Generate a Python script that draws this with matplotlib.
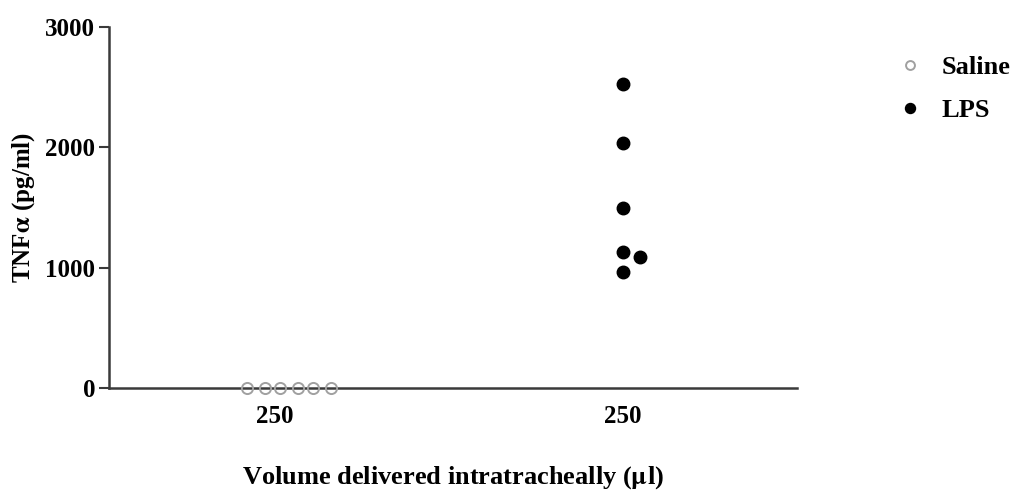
import matplotlib.pyplot as plt
import numpy as np

plt.rcParams.update({
    "font.family": "Liberation Serif",
    "font.weight": "bold",
    "mathtext.fontset": "stix",
})

## parameters
fs0 = 18
col_axis = "#3a3a3a"
col_saline = "#a0a0a0"
col_lps = "black"

##--------------- data ---------------##
groups = ["Saline", "LPS"]
tick_labels = ["250", "250"]

# TNFa (pg/ml) per animal
tnf_saline = [0, 0, 0, 0, 0, 0]
tnf_lps = [2526, 2039, 1499, 1128, 967, 1086]

# horizontal scatter offsets (group units)
dx_saline = [-0.08, -0.03, 0.015, 0.065, 0.11, 0.16]
dx_lps = [0, 0, 0, 0, 0, 0.05]

##--------------- plot ---------------##
fig = plt.figure(figsize=(10.26, 4.92), dpi=100)
ax = fig.add_axes([0.1062, 0.2114, 0.6706, 0.7336])

ax.plot(1 + np.array(dx_saline), tnf_saline, "o", ls="none", mfc="none",
        mec=col_saline, mew=1.4, ms=8, label=groups[0], clip_on=False, zorder=3)
ax.plot(2 + np.array(dx_lps), tnf_lps, "o", ls="none", color=col_lps,
        ms=9, label=groups[1], clip_on=False, zorder=3)

ax.set_xlim(0.522, 2.5)
ax.set_ylim(0, 3000)
ax.set_yticks([0, 1000, 2000, 3000])
ax.set_xticks([1, 2])
ax.set_xticklabels(tick_labels)

for s in ["top", "right"]:
    ax.spines[s].set_visible(False)
for s in ["left", "bottom"]:
    ax.spines[s].set_color(col_axis)
    ax.spines[s].set_linewidth(1.8)

ax.tick_params(axis="y", length=7, width=1.5, color=col_axis, labelsize=fs0, pad=3)
ax.tick_params(axis="x", length=0, labelsize=fs0, pad=12)

ax.set_ylabel(r"TNF$\mathbf{\alpha}$ (pg/ml)", fontsize=fs0, fontweight="bold", labelpad=6)
ax.set_xlabel(r"Volume delivered intratracheally ($\mathbf{\mu}$l)", fontsize=fs0 + 1,
              fontweight="bold", labelpad=26)

leg = fig.legend(loc="upper left", bbox_to_anchor=(0.848, 0.935), frameon=False,
                 fontsize=fs0 + 1, handletextpad=0.6, labelspacing=0.75,
                 markerscale=0.8, handlelength=1.2)

fig.savefig("out.png", dpi=100)
